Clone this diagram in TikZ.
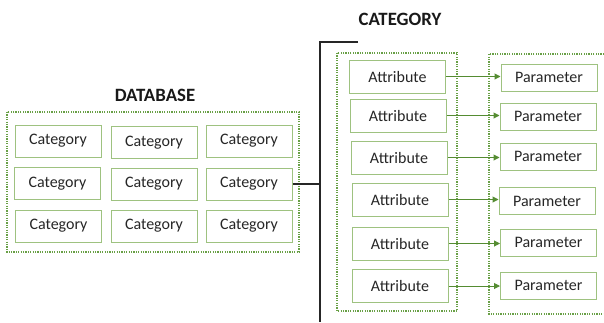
\documentclass[tikz,border=0pt]{standalone}
\usepackage{fontspec}
\setmainfont{Carlito}
\usetikzlibrary{arrows.meta}
\definecolor{boxgreen}{RGB}{158,194,128}
\definecolor{dotgreen}{RGB}{105,160,70}
\definecolor{arrgreen}{RGB}{85,140,50}
\begin{document}
\begin{tikzpicture}[x=1pt,y=-1pt,
  catbox/.style={draw=boxgreen,line width=1pt,minimum width=86pt,minimum height=32pt,inner sep=0pt,font=\fontsize{16}{18}\selectfont,text=black!85},
  attbox/.style={draw=boxgreen,line width=1pt,minimum width=96pt,minimum height=33pt,inner sep=0pt,font=\fontsize{16}{18}\selectfont,text=black!85},
  parbox/.style={draw=boxgreen,line width=1pt,minimum width=96pt,minimum height=27pt,inner sep=0pt,font=\fontsize{16}{18}\selectfont,text=black!85},
  dotframe/.style={draw=dotgreen,line width=1.1pt,dash pattern=on 1.2pt off 1.2pt},
  title/.style={font=\bfseries\fontsize{18.8}{20}\selectfont,text=black!90},
  link/.style={draw=black!85,line width=1.6pt},
  arr/.style={draw=arrgreen,line width=1pt,-{Triangle[length=6pt,width=6pt]}}]
\useasboundingbox (0,0) rectangle (604,322);
% titles
\node[title] (tdb) at (155,95) {DATABASE};
\node[title] (tcat) at (400,19) {CATEGORY};
% frames
\draw[dotframe] (7,112) rectangle (299,252);
\draw[dotframe] (337,53) rectangle (457,311);
\draw[dotframe] (604,54) -- (489,54) -- (489,314) -- (604,314);
% categories
\node[catbox] (c11) at (58,141) {Category};
\node[catbox] (c12) at (154,142.5) {Category};
\node[catbox] (c13) at (249,141) {Category};
\node[catbox] (c21) at (57.5,183.5) {Category};
\node[catbox] (c22) at (154,184) {Category};
\node[catbox] (c23) at (249,184) {Category};
\node[catbox] (c31) at (58.5,226) {Category};
\node[catbox] (c32) at (154,226) {Category};
\node[catbox] (c33) at (249,226) {Category};
% attributes
\node[attbox] (a1) at (397.5,76.5) {Attribute};
\node[attbox] (a2) at (398,115.5) {Attribute};
\node[attbox] (a3) at (399,157.5) {Attribute};
\node[attbox] (a4) at (400,199.5) {Attribute};
\node[attbox] (a5) at (400,243.5) {Attribute};
\node[attbox] (a6) at (400,286) {Attribute};
% parameters
\node[parbox] (p1) at (549,77.5) {Parameter};
\node[parbox] (p2) at (548,116.5) {Parameter};
\node[parbox] (p3) at (548,156.5) {Parameter};
\node[parbox] (p4) at (547,201) {Parameter};
\node[parbox] (p5) at (548.5,242.5) {Parameter};
\node[parbox] (p6) at (548.5,285.5) {Parameter};
% bracket
\coordinate (btop) at (320,42);
\coordinate (btopr) at (358,42);
\coordinate (bbot) at (320,322);
\draw[link] (btopr) -- (btop) -- (bbot);
\draw[link] (c23.east) -- (c23.east -| btop);
% arrows
\foreach \i in {1,...,6}{
  \draw[arr] (a\i.east) -- (a\i.east -| p\i.west);
}
\end{tikzpicture}
\end{document}
